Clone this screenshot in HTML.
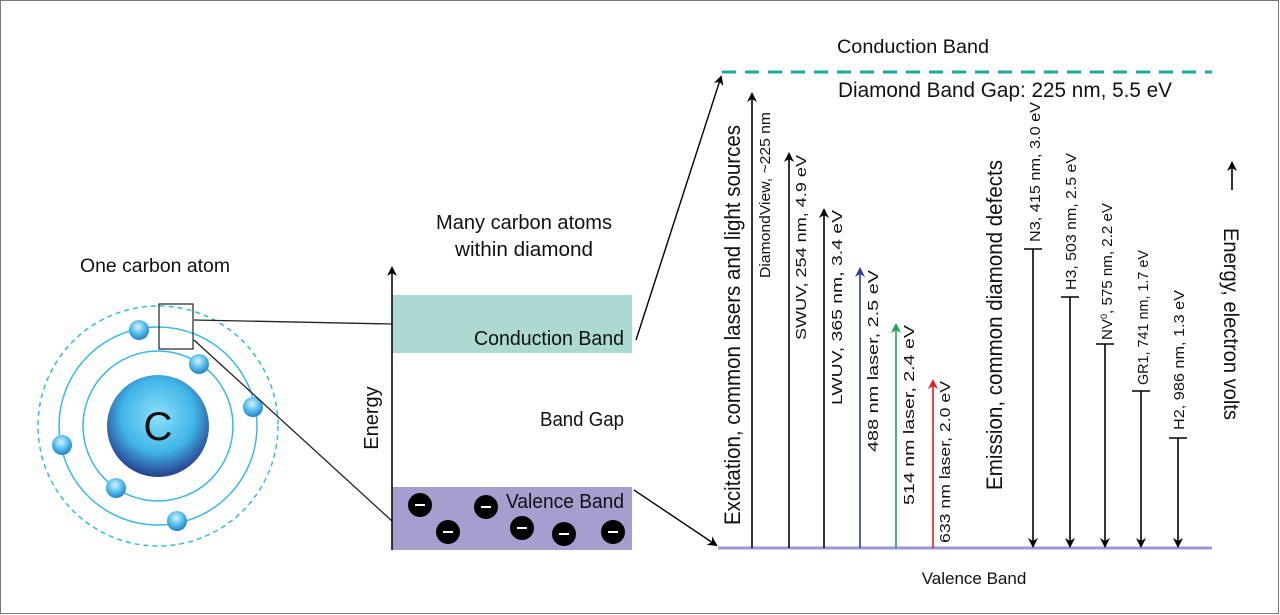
<!DOCTYPE html>
<html><head><meta charset="utf-8"><style>
html,body{margin:0;padding:0;background:#fff}
svg{display:block}
text{font-family:"Liberation Sans Narrow","Liberation Sans",sans-serif;fill:#111}
</style></head><body>
<svg width="1280" height="615" viewBox="0 0 1280 615" xmlns="http://www.w3.org/2000/svg">
<defs>
<marker id="ak" markerWidth="10" markerHeight="10" refX="8" refY="5" orient="auto" markerUnits="userSpaceOnUse"><path d="M0,0 L10,5 L0,10 L3,5 z" fill="#000"/></marker>
<marker id="ab" markerWidth="10" markerHeight="10" refX="8" refY="5" orient="auto" markerUnits="userSpaceOnUse"><path d="M0,0 L10,5 L0,10 L3,5 z" fill="#2a3f9a"/></marker>
<marker id="ag" markerWidth="10" markerHeight="10" refX="8" refY="5" orient="auto" markerUnits="userSpaceOnUse"><path d="M0,0 L10,5 L0,10 L3,5 z" fill="#1aa34a"/></marker>
<marker id="ar" markerWidth="10" markerHeight="10" refX="8" refY="5" orient="auto" markerUnits="userSpaceOnUse"><path d="M0,0 L10,5 L0,10 L3,5 z" fill="#e21d24"/></marker>
<radialGradient id="nuc" cx="0.5" cy="0.4" r="0.6"><stop offset="0" stop-color="#8fe0f8"/><stop offset="0.6" stop-color="#3fb5e8"/><stop offset="1" stop-color="#283c8c"/></radialGradient>
<radialGradient id="el" cx="0.45" cy="0.35" r="0.65"><stop offset="0" stop-color="#d6f3fd"/><stop offset="0.6" stop-color="#4ab8ea"/><stop offset="1" stop-color="#2a7fc0"/></radialGradient>
</defs>
<rect x="0.5" y="0.5" width="1278" height="613" fill="none" stroke="#777"/>

<text x="155" y="272" font-size="19" text-anchor="middle" textLength="150" lengthAdjust="spacingAndGlyphs">One carbon atom</text>
<circle cx="158" cy="426" r="120" fill="none" stroke="#36b8e8" stroke-width="1.5" stroke-dasharray="5,4"/>
<circle cx="158" cy="426" r="99" fill="none" stroke="#36b8e8" stroke-width="1.5"/>
<circle cx="158" cy="426" r="75" fill="none" stroke="#36b8e8" stroke-width="1.5"/>
<circle cx="158" cy="426" r="51" fill="url(#nuc)"/>
<text x="158" y="440" font-size="40" text-anchor="middle" font-family="Liberation Sans">C</text>
<g fill="url(#el)">
<circle cx="139" cy="330" r="10"/><circle cx="199" cy="364" r="10"/><circle cx="253" cy="407" r="10"/>
<circle cx="62" cy="445" r="10"/><circle cx="116" cy="488" r="10"/><circle cx="177" cy="521" r="10"/>
</g>
<rect x="159" y="304" width="34" height="45" fill="none" stroke="#222" stroke-width="1.2"/>
<line x1="194" y1="320" x2="392" y2="324" stroke="#222" stroke-width="1.3"/>
<line x1="194" y1="340" x2="392" y2="521" stroke="#222" stroke-width="1.3"/>

<text x="524" y="229" font-size="20" text-anchor="middle" textLength="176" lengthAdjust="spacingAndGlyphs">Many carbon atoms</text>
<text x="524" y="256" font-size="20" text-anchor="middle" textLength="138" lengthAdjust="spacingAndGlyphs">within diamond</text>
<rect x="392" y="295" width="240" height="58" fill="#acd9d2"/>
<rect x="392" y="487" width="240" height="63" fill="#a59ecf"/>
<line x1="392" y1="550" x2="392" y2="268" stroke="#000" stroke-width="1.5" marker-end="url(#ak)"/>
<text transform="translate(378,418) rotate(-90)" font-size="20" text-anchor="middle">Energy</text>
<text x="624" y="345" font-size="20" text-anchor="end" textLength="150" lengthAdjust="spacingAndGlyphs">Conduction Band</text>
<text x="624" y="426" font-size="20" text-anchor="end" textLength="84" lengthAdjust="spacingAndGlyphs">Band Gap</text>
<text x="624" y="508" font-size="20" text-anchor="end" textLength="118" lengthAdjust="spacingAndGlyphs">Valence Band</text>
<g>
<circle cx="420" cy="505" r="12"/><circle cx="448" cy="532" r="12"/><circle cx="486" cy="507" r="12"/>
<circle cx="522" cy="528" r="12"/><circle cx="564" cy="534" r="12"/><circle cx="613" cy="532" r="12"/>
</g>
<g stroke="#fff" stroke-width="2">
<line x1="415" y1="505" x2="425" y2="505"/><line x1="443" y1="532" x2="453" y2="532"/><line x1="481" y1="507" x2="491" y2="507"/>
<line x1="517" y1="528" x2="527" y2="528"/><line x1="559" y1="534" x2="569" y2="534"/><line x1="608" y1="532" x2="618" y2="532"/>
</g>
<line x1="636" y1="340" x2="721" y2="77" stroke="#000" stroke-width="1.4" marker-end="url(#ak)"/>
<line x1="634" y1="490" x2="716" y2="545" stroke="#000" stroke-width="1.4" marker-end="url(#ak)"/>

<text x="913" y="53" font-size="19" text-anchor="middle" textLength="152" lengthAdjust="spacingAndGlyphs">Conduction Band</text>
<line x1="722" y1="72" x2="1212" y2="72" stroke="#1aab9b" stroke-width="3" stroke-dasharray="14,9"/>
<text x="838" y="97" font-size="21" textLength="334" lengthAdjust="spacingAndGlyphs">Diamond Band Gap: 225 nm, 5.5 eV</text>
<line x1="718" y1="548" x2="1212" y2="548" stroke="#9b97d0" stroke-width="3"/>
<text x="974" y="584" font-size="17" text-anchor="middle">Valence Band</text>

<text transform="translate(740,525) rotate(-90)" font-size="22" textLength="400" lengthAdjust="spacingAndGlyphs">Excitation, common lasers and light sources</text>
<text transform="translate(1002,490) rotate(-90)" font-size="22" textLength="330" lengthAdjust="spacingAndGlyphs">Emission, common diamond defects</text>

<line x1="752" y1="548" x2="752" y2="94" stroke="#000" stroke-width="1.6" marker-end="url(#ak)"/>
<line x1="789" y1="548" x2="789" y2="154" stroke="#000" stroke-width="1.6" marker-end="url(#ak)"/>
<line x1="824" y1="548" x2="824" y2="210" stroke="#000" stroke-width="1.6" marker-end="url(#ak)"/>
<line x1="860" y1="548" x2="860" y2="269" stroke="#2a3f9a" stroke-width="1.6" marker-end="url(#ab)"/>
<line x1="896" y1="548" x2="896" y2="325" stroke="#1aa34a" stroke-width="1.6" marker-end="url(#ag)"/>
<line x1="933" y1="548" x2="933" y2="381" stroke="#e21d24" stroke-width="1.6" marker-end="url(#ar)"/>

<g font-size="15" lengthAdjust="spacingAndGlyphs">
<text transform="translate(770,278) rotate(-90)" textLength="166" lengthAdjust="spacingAndGlyphs">DiamondView, ~225  nm</text>
<text transform="translate(806,340) rotate(-90)" textLength="185" lengthAdjust="spacingAndGlyphs">SWUV, 254 nm, 4.9 eV</text>
<text transform="translate(842,405) rotate(-90)" textLength="195" lengthAdjust="spacingAndGlyphs">LWUV, 365 nm, 3.4 eV</text>
<text transform="translate(878,452) rotate(-90)" textLength="182" lengthAdjust="spacingAndGlyphs">488 nm laser, 2.5 eV</text>
<text transform="translate(914,505) rotate(-90)" textLength="180" lengthAdjust="spacingAndGlyphs">514 nm laser, 2.4 eV</text>
<text transform="translate(950,543) rotate(-90)" textLength="162" lengthAdjust="spacingAndGlyphs">633 nm laser, 2.0 eV</text>
<text transform="translate(1040,242) rotate(-90)" textLength="140" lengthAdjust="spacingAndGlyphs">N3, 415 nm, 3.0 eV</text>
<text transform="translate(1076,290) rotate(-90)" textLength="137" lengthAdjust="spacingAndGlyphs">H3, 503 nm, 2.5 eV</text>
<text transform="translate(1112,340) rotate(-90)" textLength="137" lengthAdjust="spacingAndGlyphs">NV<tspan font-size="9" dy="-5">0</tspan><tspan dy="5">, 575 nm, 2.2 eV</tspan></text>
<text transform="translate(1148,385) rotate(-90)" textLength="135" lengthAdjust="spacingAndGlyphs">GR1, 741 nm, 1.7 eV</text>
<text transform="translate(1184,430) rotate(-90)" textLength="140" lengthAdjust="spacingAndGlyphs">H2, 986 nm, 1.3 eV</text>
</g>

<g stroke="#000" stroke-width="1.6">
<line x1="1024" y1="249" x2="1042" y2="249"/><line x1="1033" y1="249" x2="1033" y2="546" marker-end="url(#ak)"/>
<line x1="1061" y1="297" x2="1079" y2="297"/><line x1="1070" y1="297" x2="1070" y2="546" marker-end="url(#ak)"/>
<line x1="1096" y1="344" x2="1114" y2="344"/><line x1="1105" y1="344" x2="1105" y2="546" marker-end="url(#ak)"/>
<line x1="1132" y1="391" x2="1150" y2="391"/><line x1="1141" y1="391" x2="1141" y2="546" marker-end="url(#ak)"/>
<line x1="1169" y1="438" x2="1187" y2="438"/><line x1="1178" y1="438" x2="1178" y2="546" marker-end="url(#ak)"/>
</g>

<line x1="1232" y1="190" x2="1232" y2="163" stroke="#000" stroke-width="1.6" marker-end="url(#ak)"/>
<text transform="translate(1224,228) rotate(90)" font-size="21" textLength="192" lengthAdjust="spacingAndGlyphs">Energy, electron volts</text>
</svg>
</body></html>
